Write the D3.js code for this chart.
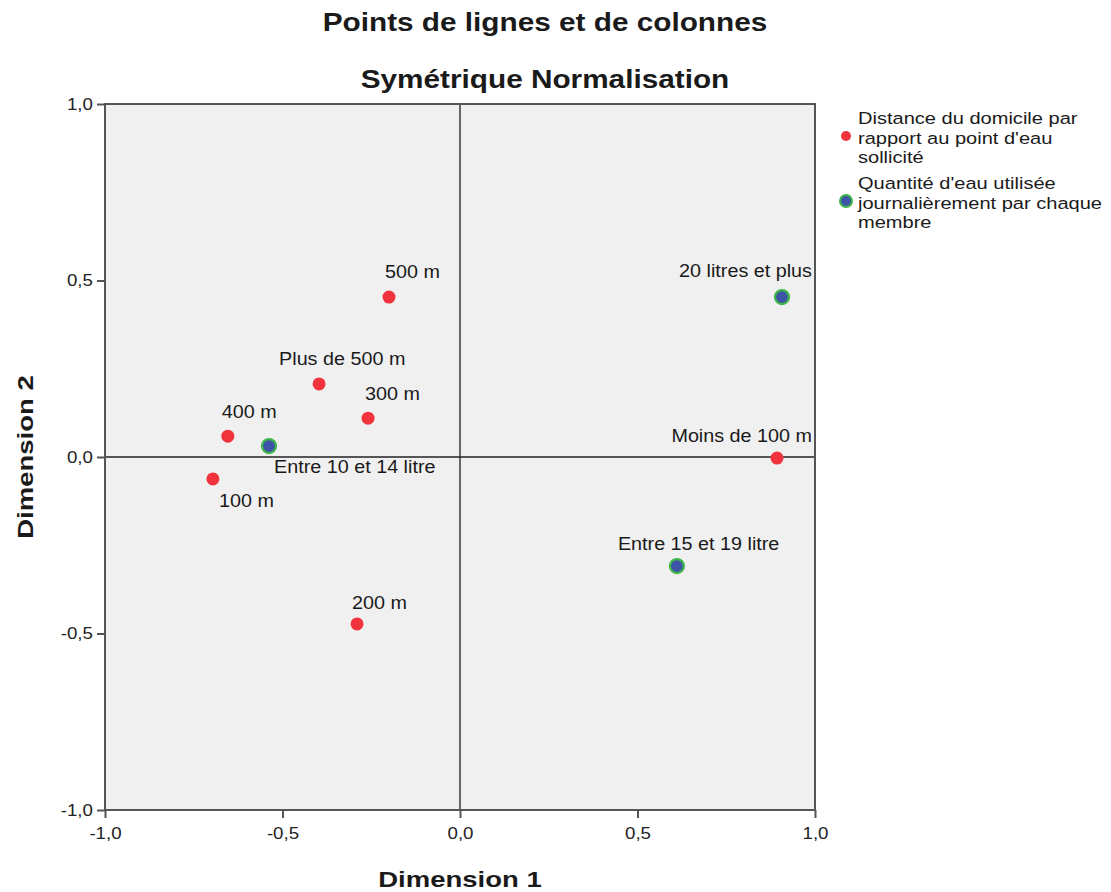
<!DOCTYPE html>
<html><head><meta charset="utf-8">
<script src="https://cdn.jsdelivr.net/npm/d3@7"></script>
<style>body{margin:0;background:#fff;font-family:"Liberation Sans",Arial,sans-serif}</style>
</head><body><svg id="c" width="1111" height="892"></svg>
<script>
const rowLabels = ["500 m","Plus de 500 m","300 m","400 m","100 m","200 m","Moins de 100 m"];
const rowDim1 = [-0.20,-0.397,-0.259,-0.654,-0.696,-0.290,0.893];
const rowDim2 = [0.453,0.207,0.110,0.059,-0.062,-0.473,-0.003];
const colLabels = ["Entre 10 et 14 litre","20 litres et plus","Entre 15 et 19 litre"];
const colDim1 = [-0.538,0.907,0.611];
const colDim2 = [0.031,0.453,-0.309];
const ticks = [-1,-0.5,0,0.5,1];
const legendRow = ["Distance du domicile par","rapport au point d'eau","sollicité"];
const legendCol = ["Quantité d'eau utilisée","journalièrement par chaque","membre"];
// label placement (layout, px relative to point: dx, dy, anchor)
const rowLabelPos = [[-4,-19,"start"],[-40,-19,"start"],[-3,-18,"start"],[-6,-18,"start"],[6,28,"start"],[-5,-15,"start"],[35,-16,"end"]];
const colLabelPos = [[5,27,"start"],[30,-20,"end"],[-59,-16,"start"]];

const svg = d3.select("#c");
const L=105,R=815,T=104,B=810;
const x = d3.scaleLinear().domain([-1,1]).range([L,R]);
const y = d3.scaleLinear().domain([-1,1]).range([B,T]);
const fmt = d => d3.format(".1f")(d).replace(".",",").replace("−","-");
const FONT="Liberation Sans, Arial, sans-serif";

function txt(g,xx,yy,s,opt){
  const o=Object.assign({size:18,sx:1.08,anchor:"start",bold:false,rot:0},opt||{});
  return g.append("text").attr("transform",`translate(${xx},${yy}) rotate(${o.rot}) scale(${o.sx},1)`)
   .attr("text-anchor",o.anchor).attr("font-size",o.size).attr("font-family",FONT)
   .attr("font-weight",o.bold?"bold":"normal").attr("fill","#1a1a1a").text(s);
}

svg.append("rect").attr("x",L).attr("y",T).attr("width",R-L).attr("height",B-T).attr("fill","#f0f0f0");
svg.append("line").attr("x1",x(0)).attr("x2",x(0)).attr("y1",T).attr("y2",B).attr("stroke","#444").attr("stroke-width",1.6);
svg.append("line").attr("x1",L).attr("x2",R).attr("y1",y(0)).attr("y2",y(0)).attr("stroke","#222").attr("stroke-width",1.3);

const xa = svg.append("g").attr("transform",`translate(0,${B})`).call(d3.axisBottom(x).tickValues(ticks).tickFormat(fmt).tickSize(8).tickPadding(9));
const ya = svg.append("g").attr("transform",`translate(${L},0)`).call(d3.axisLeft(y).tickValues(ticks).tickFormat(fmt).tickSize(8).tickPadding(3));
[xa,ya].forEach(a=>{a.select(".domain").remove();a.selectAll("line").attr("stroke","#555").attr("stroke-width",2);
 a.selectAll("text").attr("font-size",17).attr("fill","#222").attr("font-family",FONT).attr("transform","scale(1.1,1)");});
svg.append("rect").attr("x",L).attr("y",T).attr("width",R-L).attr("height",B-T).attr("fill","none").attr("stroke","#555").attr("stroke-width",2);

const rows = rowLabels.map((l,i)=>({l,x:rowDim1[i],y:rowDim2[i],p:rowLabelPos[i]}));
const cols = colLabels.map((l,i)=>({l,x:colDim1[i],y:colDim2[i],p:colLabelPos[i]}));
svg.selectAll(".rp").data(rows).join("circle").attr("cx",d=>x(d.x)).attr("cy",d=>y(d.y)).attr("r",6.5).attr("fill","#f0333c");
svg.selectAll(".cp").data(cols).join("circle").attr("cx",d=>x(d.x)).attr("cy",d=>y(d.y)).attr("r",7).attr("fill","#3c55a6").attr("stroke","#3fb54a").attr("stroke-width",2.2);
const lg0 = svg.append("g");
rows.concat(cols).forEach(d=>txt(lg0,x(d.x)+d.p[0],y(d.y)+d.p[1],d.l,{size:17.5,sx:1.13,anchor:d.p[2]}));

// titles
txt(svg,545,31,"Points de lignes et de colonnes",{size:25,sx:1.19,anchor:"middle",bold:true});
txt(svg,545,88,"Symétrique Normalisation",{size:25,sx:1.19,anchor:"middle",bold:true});
txt(svg,460,887,"Dimension 1",{size:21.5,sx:1.28,anchor:"middle",bold:true});
txt(svg,33,457,"Dimension 2",{size:21.5,sx:1.28,anchor:"middle",bold:true,rot:-90});

// legend
const lg = svg.append("g");
lg.append("circle").attr("cx",846).attr("cy",136).attr("r",5).attr("fill","#f0333c");
legendRow.forEach((t,i)=>txt(lg,858,124+i*19.5,t,{size:17,sx:1.18}));
lg.append("circle").attr("cx",846).attr("cy",201).attr("r",6).attr("fill","#3c55a6").attr("stroke","#3fb54a").attr("stroke-width",2);
legendCol.forEach((t,i)=>txt(lg,858,189+i*19.5,t,{size:17,sx:1.18}));
</script></body></html>
